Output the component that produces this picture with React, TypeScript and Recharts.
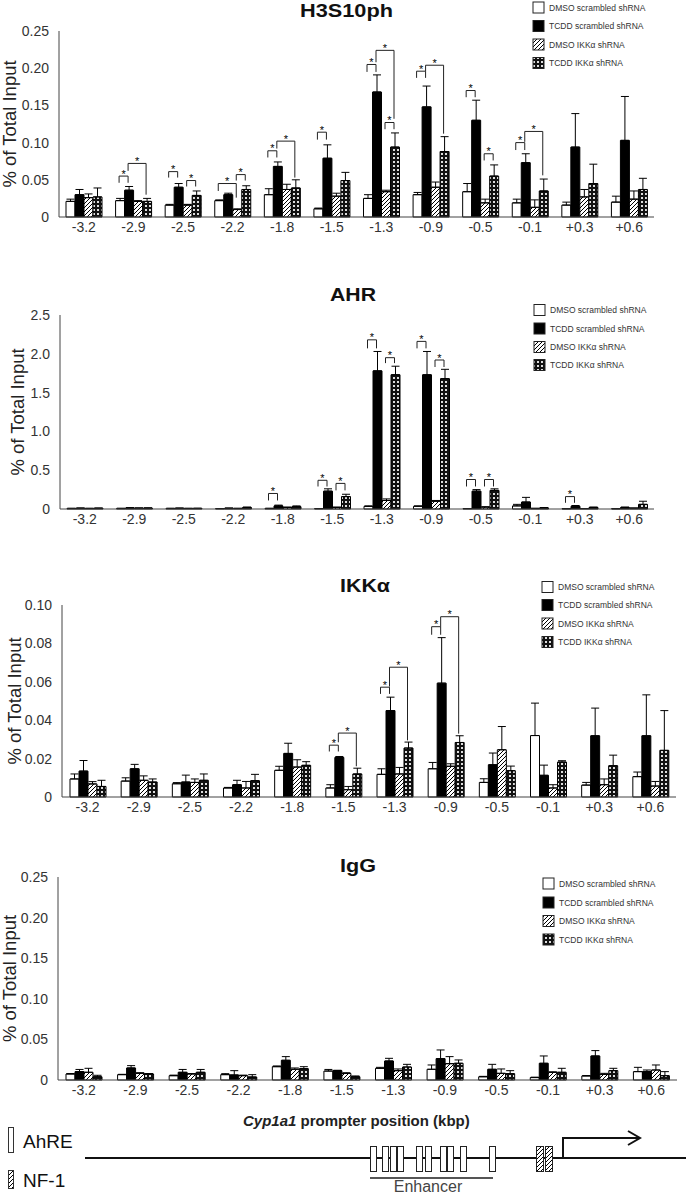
import React from "react"
import { Bar, BarChart, ErrorBar, ReferenceDot, ReferenceLine, XAxis, YAxis } from "recharts"

const positions = ["-3.2", "-2.9", "-2.5", "-2.2", "-1.8", "-1.5", "-1.3", "-0.9", "-0.5", "-0.1", "+0.3", "+0.6"]
const seriesNames = ["DMSO scrambled shRNA", "TCDD scrambled shRNA", "DMSO IKKα shRNA", "TCDD IKKα shRNA"]

// H3S10ph
const h3DmsoScr = [0.021, 0.022, 0.016, 0.022, 0.03, 0.011, 0.025, 0.03, 0.034, 0.019, 0.016, 0.02]
const h3DmsoScrSd = [0.003, 0.003, 0.001, 0.001, 0.008, 0.001, 0.005, 0.003, 0.011, 0.005, 0.004, 0.008]
const h3TcddScr = [0.03, 0.036, 0.04, 0.03, 0.068, 0.079, 0.168, 0.148, 0.13, 0.073, 0.094, 0.103]
const h3TcddScrSd = [0.007, 0.005, 0.005, 0.002, 0.006, 0.018, 0.023, 0.028, 0.027, 0.012, 0.045, 0.059]
const h3DmsoIkk = [0.026, 0.021, 0.016, 0.01, 0.037, 0.028, 0.034, 0.04, 0.019, 0.013, 0.027, 0.024]
const h3DmsoIkkSd = [0.005, 0.001, 0.001, 0.001, 0.007, 0.004, 0.002, 0.007, 0.005, 0.01, 0.01, 0.011]
const h3TcddIkk = [0.027, 0.021, 0.029, 0.037, 0.039, 0.049, 0.094, 0.088, 0.055, 0.035, 0.045, 0.037]
const h3TcddIkkSd = [0.012, 0.004, 0.006, 0.005, 0.011, 0.011, 0.019, 0.02, 0.015, 0.016, 0.026, 0.015]
// [position, series a, series b, bracket top, left leg end, right leg end]
const h3Sig = [
  [1, 0, 1, 0.055, 0.046, 0.046],
  [1, 1, 3, 0.072, 0.062, 0.03],
  [2, 0, 1, 0.061, 0.053, 0.053],
  [2, 2, 3, 0.049, 0.041, 0.041],
  [3, 0, 2, 0.045, 0.035, 0.026],
  [3, 2, 3, 0.057, 0.049, 0.049],
  [4, 0, 1, 0.089, 0.08, 0.08],
  [4, 1, 3, 0.102, 0.092, 0.053],
  [5, 0, 1, 0.114, 0.104, 0.104],
  [6, 0, 1, 0.205, 0.195, 0.195],
  [6, 1, 3, 0.224, 0.208, 0.132],
  [6, 2, 3, 0.127, 0.118, 0.118],
  [7, 0, 1, 0.196, 0.187, 0.187],
  [7, 1, 3, 0.204, 0.196, 0.112],
  [8, 0, 1, 0.17, 0.161, 0.161],
  [8, 2, 3, 0.085, 0.076, 0.076],
  [9, 0, 1, 0.1, 0.09, 0.09],
  [9, 1, 3, 0.115, 0.101, 0.056],
]

// AHR
const ahrDmsoScr = [0.008, 0.008, 0.008, 0.006, 0.008, 0.006, 0.034, 0.035, 0.006, 0.04, 0.005, 0.005]
const ahrDmsoScrSd = [0, 0, 0, 0, 0, 0, 0.006, 0.005, 0, 0.02, 0, 0]
const ahrTcddScr = [0.01, 0.014, 0.01, 0.01, 0.04, 0.23, 1.78, 1.73, 0.23, 0.09, 0.035, 0.02]
const ahrTcddScrSd = [0.003, 0.003, 0.002, 0.002, 0.01, 0.03, 0.25, 0.3, 0.02, 0.06, 0.01, 0.005]
const ahrDmsoIkk = [0.008, 0.012, 0.008, 0.008, 0.02, 0.02, 0.11, 0.1, 0.025, 0.008, 0.006, 0.01]
const ahrDmsoIkkSd = [0, 0, 0, 0, 0.005, 0.005, 0.02, 0.01, 0.003, 0, 0, 0.003]
const ahrTcddIkk = [0.01, 0.012, 0.008, 0.02, 0.03, 0.16, 1.73, 1.68, 0.24, 0.015, 0.02, 0.06]
const ahrTcddIkkSd = [0.002, 0.002, 0.002, 0.005, 0.01, 0.03, 0.11, 0.12, 0.02, 0.003, 0.005, 0.04]
const ahrSig = [
  [4, 0, 1, 0.2, 0.11, 0.11],
  [5, 0, 1, 0.37, 0.29, 0.29],
  [5, 2, 3, 0.33, 0.24, 0.24],
  [6, 0, 1, 2.18, 2.07, 2.07],
  [6, 2, 3, 1.95, 1.88, 1.88],
  [7, 0, 1, 2.16, 2.07, 2.07],
  [7, 2, 3, 1.92, 1.83, 1.83],
  [8, 0, 1, 0.38, 0.29, 0.29],
  [8, 2, 3, 0.38, 0.29, 0.29],
  [10, 0, 1, 0.16, 0.08, 0.08],
]

// IKKα
const ikkDmsoScr = [0.0094, 0.0083, 0.0069, 0.0047, 0.0139, 0.0047, 0.0118, 0.0147, 0.0076, 0.032, 0.0062, 0.0106]
const ikkDmsoScrSd = [0.0026, 0.0017, 0.0006, 0.0003, 0.0021, 0.0017, 0.0029, 0.0033, 0.0019, 0.0169, 0.0014, 0.0024]
const ikkTcddScr = [0.0135, 0.0147, 0.0078, 0.0064, 0.0227, 0.0206, 0.045, 0.0593, 0.0168, 0.0113, 0.0319, 0.0319]
const ikkTcddScrSd = [0.0055, 0.0023, 0.0036, 0.0023, 0.0053, 0.0005, 0.007, 0.0237, 0.0061, 0.0053, 0.0144, 0.0213]
const ikkDmsoIkk = [0.0068, 0.0087, 0.0076, 0.0047, 0.0156, 0.0038, 0.012, 0.016, 0.0246, 0.0047, 0.0064, 0.0057]
const ikkDmsoIkkSd = [0.0012, 0.0023, 0.0018, 0.0034, 0.0038, 0.0017, 0.0034, 0.0013, 0.0121, 0.0017, 0.003, 0.0024]
const ikkTcddIkk = [0.0055, 0.0078, 0.0087, 0.0085, 0.0165, 0.012, 0.0255, 0.0284, 0.0137, 0.0182, 0.0163, 0.0243]
const ikkTcddIkkSd = [0.0032, 0.0016, 0.0033, 0.0033, 0.0019, 0.003, 0.0031, 0.0035, 0.0024, 0.0007, 0.0055, 0.0207]
const ikkSig = [
  [5, 0, 1, 0.027, 0.0237, 0.0237],
  [5, 1, 3, 0.0333, 0.0285, 0.016],
  [6, 0, 1, 0.0572, 0.0537, 0.0537],
  [6, 1, 3, 0.0676, 0.0575, 0.0295],
  [7, 0, 1, 0.0887, 0.0845, 0.0845],
  [7, 1, 3, 0.0939, 0.0887, 0.033],
]

// IgG
const iggDmsoScr = [0.0074, 0.0066, 0.0053, 0.0066, 0.0164, 0.011, 0.0144, 0.0132, 0.004, 0.003, 0.005, 0.0103]
const iggDmsoScrSd = [0.0006, 0.0004, 0.0007, 0.0012, 0.0009, 0.002, 0.0012, 0.0053, 0.0005, 0.0005, 0.0005, 0.0053]
const iggTcddScr = [0.0103, 0.0148, 0.0095, 0.0062, 0.0243, 0.0115, 0.0234, 0.0263, 0.0132, 0.0206, 0.0296, 0.0103]
const iggTcddScrSd = [0.0027, 0.0029, 0.0035, 0.0053, 0.0045, 0.0005, 0.0033, 0.0107, 0.0061, 0.009, 0.0066, 0.002]
const iggDmsoIkk = [0.0095, 0.0082, 0.0074, 0.0053, 0.0132, 0.008, 0.0115, 0.0201, 0.0082, 0.0095, 0.007, 0.0123]
const iggDmsoIkkSd = [0.0049, 0.0008, 0.0006, 0.0007, 0.0016, 0.001, 0.0021, 0.0087, 0.0054, 0.0005, 0.0012, 0.0062]
const iggTcddIkk = [0.004, 0.0074, 0.0095, 0.0037, 0.014, 0.004, 0.016, 0.0206, 0.0078, 0.0095, 0.0115, 0.0053]
const iggTcddIkkSd = [0.0018, 0.0006, 0.0035, 0.0029, 0.0024, 0.001, 0.0033, 0.0041, 0.0037, 0.0049, 0.0029, 0.005]

const FONT = "'Liberation Sans', Arial, sans-serif"
const BAR = 9
const fills = ["#fff", "#000", "url(#hatch)", "url(#dots)"]

function makeRows(means: number[][], sds: number[][]) {
  return positions.map((pos, i) => {
    // idx: band centre on the hidden numeric axis used for the brackets
    const row: Record<string, unknown> = { pos, idx: i + 0.5 }
    means.forEach((m, j) => {
      row["s" + j] = m[i]
      row["e" + j] = [0, sds[j][i]]
    })
    return row
  })
}

type PanelProps = {
  top: number
  rows: Record<string, unknown>[]
  sig: number[][]
  yMax: number
  ticks: number[]
  digits: number
  axisX: number
  axisEnd: number
  plotTop: number
  plotBottom: number
  labelX: number
}

function Panel({ top, rows, sig, yMax, ticks, digits, axisX, axisEnd, plotTop, plotBottom, labelX }: PanelProps) {
  const band = (axisEnd - axisX) / 12
  const off = Math.floor((band - 4 * BAR) / 2)
  const cx = (i: number, j: number) => i + (off + BAR * j + BAR / 2) / band
  const height = plotBottom - top + 30
  const labelY = (plotTop + plotBottom) / 2 - top
  const line = { stroke: "#222", strokeWidth: 1, xAxisId: "n", ifOverflow: "visible" as const }

  return (
    <div style={{ position: "absolute", left: 0, top }}>
      <BarChart
        width={686}
        height={height}
        data={rows}
        margin={{ top: plotTop - top, right: 686 - axisEnd, bottom: 0, left: 0 }}
        barGap={0}
        barSize={BAR}
      >
        <XAxis
          dataKey="pos"
          height={30}
          interval={0}
          tickLine={false}
          tickSize={4}
          tickMargin={1}
          axisLine={{ stroke: "#444" }}
          tick={{ fill: "#333", fontSize: 14, fontFamily: FONT }}
        />
        <XAxis xAxisId="n" dataKey="idx" type="number" domain={[0, 12]} ticks={[0, 12]} hide allowDataOverflow />
        <YAxis
          width={axisX}
          domain={[0, yMax]}
          ticks={ticks}
          interval={0}
          tickFormatter={(v: number) => (v === 0 ? "0" : v.toFixed(digits))}
          tickLine={false}
          tickSize={6}
          tickMargin={4}
          axisLine={{ stroke: "#444" }}
          tick={{ fill: "#333", fontSize: 14, fontFamily: FONT }}
          label={{
            content: () => (
              <text
                x={labelX}
                y={labelY}
                transform={`rotate(-90 ${labelX} ${labelY})`}
                textAnchor="middle"
                dominantBaseline="central"
                fontSize={18.5}
                fontFamily={FONT}
                fill="#222"
              >
                % of Total Input
              </text>
            ),
          }}
        />
        {[0, 1, 2, 3].map((j) => (
          <Bar key={j} dataKey={"s" + j} fill={fills[j]} stroke="#000" strokeWidth={1} isAnimationActive={false}>
            <ErrorBar dataKey={"e" + j} width={4} stroke="#000" strokeWidth={1} direction="y" />
          </Bar>
        ))}
        {sig.map(([i, a, b, t, la, rb], k) => {
          const xa = cx(i, a)
          const xb = cx(i, b)
          return [
            <ReferenceLine key={k + "l"} {...line} segment={[{ x: xa, y: la }, { x: xa, y: t }]} />,
            <ReferenceLine key={k + "t"} {...line} segment={[{ x: xa, y: t }, { x: xb, y: t }]} />,
            <ReferenceLine key={k + "r"} {...line} segment={[{ x: xb, y: t }, { x: xb, y: rb }]} />,
            <ReferenceDot
              key={k + "s"}
              xAxisId="n"
              x={(xa + xb) / 2}
              y={t}
              r={0}
              ifOverflow="visible"
              shape={(p: { cx?: number; cy?: number }) => (
                <text x={p.cx} y={(p.cy ?? 0) + 1.5} textAnchor="middle" fontSize={11} fontFamily={FONT} fill="#000">
                  *
                </text>
              )}
            />,
          ]
        })}
      </BarChart>
    </div>
  )
}

function Legend({ x, rowsY }: { x: number; rowsY: number[] }) {
  return (
    <g>
      {seriesNames.map((name, j) => (
        <g key={name}>
          <rect x={x} y={rowsY[j] - 5.5} width={11} height={11} fill={fills[j]} stroke="#222" strokeWidth={1} />
          <text x={x + 16} y={rowsY[j] + 3} fontSize={8.5} fontFamily={FONT} fill="#333">
            {name}
          </text>
        </g>
      ))}
    </g>
  )
}

const ahreBoxes = [370, 382, 390, 397, 416, 425, 440, 447, 460, 489]
const nf1Boxes = [536, 545]

export default function App() {
  const h3Rows = makeRows(
    [h3DmsoScr, h3TcddScr, h3DmsoIkk, h3TcddIkk],
    [h3DmsoScrSd, h3TcddScrSd, h3DmsoIkkSd, h3TcddIkkSd],
  )
  const ahrRows = makeRows(
    [ahrDmsoScr, ahrTcddScr, ahrDmsoIkk, ahrTcddIkk],
    [ahrDmsoScrSd, ahrTcddScrSd, ahrDmsoIkkSd, ahrTcddIkkSd],
  )
  const ikkRows = makeRows(
    [ikkDmsoScr, ikkTcddScr, ikkDmsoIkk, ikkTcddIkk],
    [ikkDmsoScrSd, ikkTcddScrSd, ikkDmsoIkkSd, ikkTcddIkkSd],
  )
  const iggRows = makeRows(
    [iggDmsoScr, iggTcddScr, iggDmsoIkk, iggTcddIkk],
    [iggDmsoScrSd, iggTcddScrSd, iggDmsoIkkSd, iggTcddIkkSd],
  )
  const t25 = [0, 0.05, 0.1, 0.15, 0.2, 0.25]

  return (
    <div style={{ position: "absolute", left: 0, top: 0, width: 686, height: 1199, background: "#fff", overflow: "hidden" }}>
      <svg width={0} height={0} style={{ position: "absolute" }}>
        <defs>
          <pattern id="hatch" width={4} height={4} patternUnits="userSpaceOnUse">
            <rect width={4} height={4} fill="#fff" />
            <path d="M-1,1 l2,-2 M0,4 l4,-4 M3,5 l2,-2" stroke="#000" strokeWidth={1} />
          </pattern>
          <pattern id="dots" width={4} height={4} patternUnits="userSpaceOnUse">
            <rect width={4} height={4} fill="#111" />
            <rect x={1} y={1} width={2} height={2} fill="#ddd" />
          </pattern>
        </defs>
      </svg>

      <Panel top={0} rows={h3Rows} sig={h3Sig} yMax={0.25} ticks={t25} digits={2}
        axisX={59} axisEnd={654} plotTop={31} plotBottom={217} labelX={9} />
      <Panel top={280} rows={ahrRows} sig={ahrSig} yMax={2.5} ticks={[0, 0.5, 1, 1.5, 2, 2.5]} digits={1}
        axisX={60} axisEnd={654} plotTop={315} plotBottom={509} labelX={17} />
      <Panel top={570} rows={ikkRows} sig={ikkSig} yMax={0.1} ticks={[0, 0.02, 0.04, 0.06, 0.08, 0.1]} digits={2}
        axisX={62} axisEnd={676} plotTop={605} plotBottom={797} labelX={14} />
      <Panel top={850} rows={iggRows} sig={[]} yMax={0.25} ticks={t25} digits={2}
        axisX={58} axisEnd={677} plotTop={877} plotBottom={1080} labelX={9} />

      <svg width={686} height={1199} style={{ position: "absolute", left: 0, top: 0, pointerEvents: "none" }}>
        <g fontFamily={FONT} fontWeight="bold" fill="#111" textAnchor="middle" fontSize={19}>
          <text x={346.5} y={17} textLength={93} lengthAdjust="spacingAndGlyphs">H3S10ph</text>
          <text x={353} y={301} textLength={46} lengthAdjust="spacingAndGlyphs">AHR</text>
          <text x={365} y={592} textLength={50} lengthAdjust="spacingAndGlyphs">IKKα</text>
          <text x={358} y={872} textLength={36} lengthAdjust="spacingAndGlyphs">IgG</text>
        </g>
        <Legend x={533} rowsY={[7.5, 26, 44.5, 63]} />
        <Legend x={534} rowsY={[310, 328.5, 347, 365]} />
        <Legend x={542} rowsY={[587, 605, 623.5, 642]} />
        <Legend x={543} rowsY={[883.5, 902.5, 921, 939.5]} />

        {/* promoter diagram */}
        <text x={243} y={1126} fontSize={15} fontWeight="bold" fontFamily={FONT} fill="#222">
          <tspan fontStyle="italic">Cyp1a1</tspan> prompter position (kbp)
        </text>
        <rect x={8.5} y={1127.5} width={5} height={25} fill="#fff" stroke="#333" />
        <text x={23} y={1148} fontSize={19} fontFamily={FONT} fill="#111">AhRE</text>
        <rect x={8.5} y={1170.5} width={5} height={18} fill="url(#hatch)" stroke="#333" />
        <text x={23} y={1187} fontSize={19} fontFamily={FONT} fill="#111">NF-1</text>
        <line x1={85} y1={1158} x2={686} y2={1158} stroke="#111" strokeWidth={2} />
        {ahreBoxes.map((bx) => (
          <rect key={bx} x={bx + 0.5} y={1146.5} width={6} height={25} fill="#fff" stroke="#222" />
        ))}
        {nf1Boxes.map((bx) => (
          <rect key={bx} x={bx + 0.5} y={1146.5} width={7} height={25} fill="url(#hatch)" stroke="#222" />
        ))}
        <polyline points="563,1158 563,1138 640,1138" fill="none" stroke="#111" strokeWidth={2} />
        <polyline points="628,1131 640,1138 628,1145" fill="none" stroke="#111" strokeWidth={2} />
        <line x1={370} y1={1178} x2={493} y2={1178} stroke="#555" strokeWidth={2} />
        <text x={428} y={1192} fontSize={16} textAnchor="middle" fontFamily={FONT} fill="#444">Enhancer</text>
      </svg>
    </div>
  )
}
